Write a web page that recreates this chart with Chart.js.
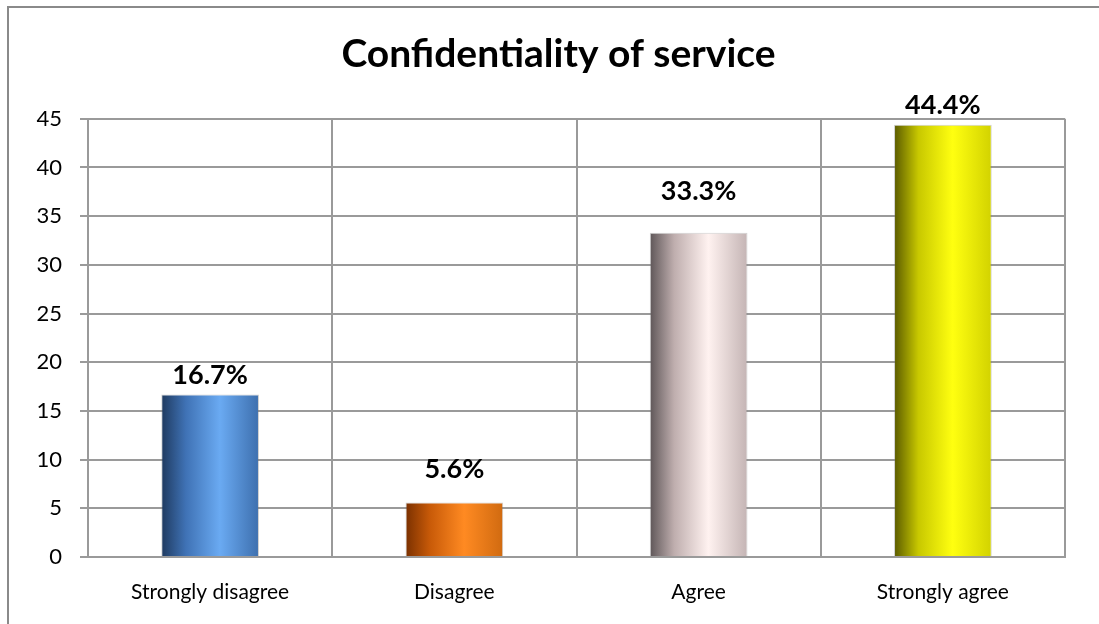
<!DOCTYPE html>
<html>
<head>
<meta charset="utf-8">
<script src="https://cdn.jsdelivr.net/npm/chart.js@4/dist/chart.umd.min.js"></script>
<style>
  html, body { margin: 0; padding: 0; background: #fff; }
  #wrap { position: relative; width: 1099px; height: 624px; }
</style>
</head>
<body>
<div id="wrap"><canvas id="c" width="1099" height="624"></canvas></div>
<script>
const categories = ['Strongly disagree', 'Disagree', 'Agree', 'Strongly agree'];
const values = [16.7, 5.6, 33.3, 44.4];
const valueLabels = ['16.7%', '5.6%', '33.3%', '44.4%'];
const yTicks = [0, 5, 10, 15, 20, 25, 30, 35, 40, 45];

// styles
const gradientStops = [
  [[0, '#1f3a5f'], [0.25, '#3f72b5'], [0.6, '#6aaaf2'], [1, '#3d6fae']],
  [[0, '#7a3000'], [0.25, '#c85a08'], [0.6, '#ff8a22'], [1, '#d06a10']],
  [[0, '#5e5658'], [0.25, '#bfaeae'], [0.6, '#fff2f0'], [1, '#c4b4b4']],
  [[0, '#5a5a00'], [0.25, '#c8c800'], [0.6, '#ffff10'], [1, '#d2d200']]
];
const fallbackColors = ['#4f86c6', '#e8700f', '#e8d8d8', '#f0f000'];
const labelGap = [10, 24, 33, 11];
const TITLE_SHIFT = 22;
const FONT = 'Lato, "Liberation Sans", sans-serif';
const BAR_PCT = 0.4;

const gradientPlugin = {
  id: 'barGradients',
  beforeDatasetsDraw(chart) {
    const c = chart.ctx;
    const meta = chart.getDatasetMeta(0);
    meta.data.forEach((bar, i) => {
      const w = bar.width;
      if (!isFinite(bar.x) || !isFinite(w)) return;
      const g = c.createLinearGradient(bar.x - w / 2, 0, bar.x + w / 2, 0);
      gradientStops[i].forEach(s => g.addColorStop(s[0], s[1]));
      bar.options.backgroundColor = g;
    });
  }
};

const titleShiftPlugin = {
  id: 'titleShift',
  afterLayout(chart) {
    const t = chart.titleBlock;
    if (t) { t.left += TITLE_SHIFT; t.right += TITLE_SHIFT; }
  }
};

const borderPlugin = {
  id: 'outerBorder',
  beforeDraw(chart) {
    const c = chart.ctx;
    c.save();
    c.fillStyle = '#fff';
    c.fillRect(0, 0, chart.width, chart.height);
    c.strokeStyle = '#8a8a8a';
    c.lineWidth = 2;
    c.strokeRect(8, 7, chart.width + 20, chart.height + 20);
    c.restore();
  }
};

const labelPlugin = {
  id: 'valueLabels',
  afterDatasetsDraw(chart) {
    const c = chart.ctx;
    const meta = chart.getDatasetMeta(0);
    c.save();
    c.font = 'bold 27px ' + FONT;
    c.fillStyle = '#000';
    c.textAlign = 'center';
    c.textBaseline = 'alphabetic';
    meta.data.forEach((bar, i) => {
      c.fillText(valueLabels[i], bar.x, bar.y - labelGap[i]);
    });
    c.restore();
  }
};

new Chart(document.getElementById('c'), {
  type: 'bar',
  data: {
    labels: categories,
    datasets: [{
      data: values,
      backgroundColor: (ctx) => fallbackColors[ctx.dataIndex % fallbackColors.length],
      borderColor: 'rgba(120,120,120,0.35)',
      borderWidth: 1,
      barPercentage: BAR_PCT,
      categoryPercentage: 1
    }]
  },
  options: {
    responsive: false,
    animation: false,
    devicePixelRatio: 1,
    layout: { padding: { left: 8, right: 34, top: 0, bottom: 0 } },
    plugins: {
      legend: { display: false },
      tooltip: { enabled: false },
      title: {
        display: true,
        text: 'Confidentiality of service',
        color: '#000',
        font: { family: FONT, size: 39, weight: 'bold', lineHeight: 1.2 },
        padding: { top: 31, bottom: 41 }
      }
    },
    scales: {
      y: {
        min: 0, max: 45,
        afterBuildTicks(scale) { scale.ticks = yTicks.map(v => ({ value: v })); },
        afterFit(scale) { scale.width = 80; },
        ticks: {
          color: '#000',
          font: { family: FONT, size: 22 },
          padding: 18
        },
        grid: { color: '#9a9a9a', lineWidth: 2, tickLength: 8, drawTicks: true },
        border: { color: '#9a9a9a', width: 2 }
      },
      x: {
        afterFit(scale) { scale.height = 67; },
        ticks: {
          color: '#000',
          font: { family: FONT, size: 21 },
          padding: 23,
          maxRotation: 0
        },
        grid: { color: '#9a9a9a', lineWidth: 2, offset: true, drawTicks: false },
        border: { color: '#9a9a9a', width: 2 }
      }
    }
  },
  plugins: [borderPlugin, titleShiftPlugin, gradientPlugin, labelPlugin]
});
</script>
</body>
</html>
